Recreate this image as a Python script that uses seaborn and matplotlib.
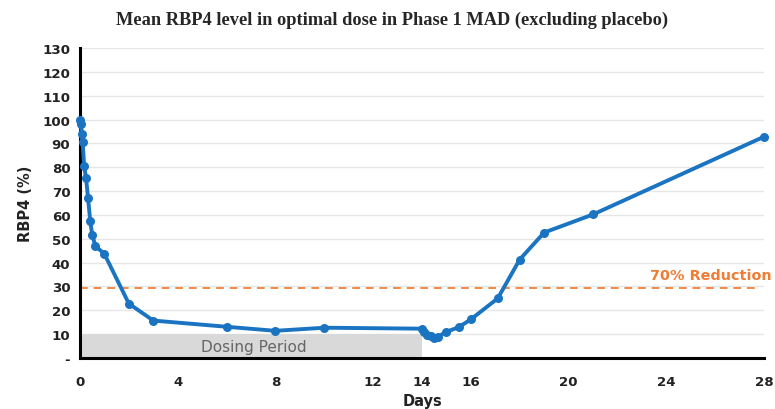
import matplotlib
matplotlib.use("Agg")
import matplotlib.pyplot as plt
import seaborn as sns
import pandas as pd

days = [0.0, 0.04, 0.07, 0.11, 0.17, 0.25, 0.33, 0.42, 0.5, 0.63, 1.0, 2.0, 3.0,
        6.0, 8.0, 10.0, 14.0, 14.1, 14.2, 14.35, 14.5, 14.65, 15.0, 15.5, 16.0,
        17.1, 18.0, 19.0, 21.0, 28.0]
rbp4 = [100.0, 98.0, 94.0, 90.4, 80.5, 75.3, 67.0, 57.3, 51.6, 47.0, 43.6, 22.8, 15.7,
        13.1, 11.4, 12.7, 12.3, 10.8, 9.8, 9.3, 8.2, 8.9, 11.0, 12.9, 16.2,
        25.0, 41.3, 52.6, 60.2, 92.8]
x_ticks = [0, 4, 8, 12, 14, 16, 20, 24, 28]
y_ticks = [0, 10, 20, 30, 40, 50, 60, 70, 80, 90, 100, 110, 120, 130]
y_tick_labels = ["-"] + [str(v) for v in y_ticks[1:]]
threshold = 29.3
threshold_label = "70% Reduction"
dosing_start, dosing_end, dosing_height = 0, 14, 10
dosing_label = "Dosing Period"
title = "Mean RBP4 level in optimal dose in Phase 1 MAD (excluding placebo)"

sns.set_theme(style="white")
plt.rcParams["font.family"] = ["DejaVu Sans"]

df = pd.DataFrame({"Days": days, "RBP4": rbp4})

fig = plt.figure(figsize=(7.75, 4.1), dpi=100)
ax = fig.add_axes([80 / 775, 51 / 410, 684 / 775, 310 / 410])

for v in y_ticks[1:]:
    ax.axhline(v, color="#e6e6e6", lw=1.0, zorder=0)

ax.axvspan(dosing_start, dosing_end, ymin=0, ymax=dosing_height / 130,
           color="#d9d9d9", lw=0, zorder=1)
ax.text((dosing_start + dosing_end) / 2 + 0.1, dosing_height / 2 - 0.3, dosing_label,
        ha="center", va="center", fontsize=11, color="#666666", zorder=2)

ax.axhline(threshold, xmin=0, xmax=27.8 / 28, color="#f08a46", lw=1.4,
           ls=(0, (4, 3)), zorder=2)
ax.text(28.3, threshold + 2.6, threshold_label, ha="right", va="bottom",
        fontsize=10.4, fontweight="bold", color="#ef7d35", clip_on=False)

sns.lineplot(data=df, x="Days", y="RBP4", ax=ax, estimator=None, sort=False,
             color="#1b74c1", lw=2.8, marker="o", markersize=6.5,
             markeredgewidth=0, zorder=4, clip_on=False)

ax.set_xlim(0, 28)
ax.set_ylim(0, 130)
ax.set_xticks(x_ticks)
ax.set_xticklabels([str(t) for t in x_ticks], fontsize=9.6, fontweight="bold")
ax.set_yticks(y_ticks)
ax.set_yticklabels(y_tick_labels, fontsize=9.6, fontweight="bold")
ax.tick_params(axis="both", which="both", length=4, width=2, color="black",
               direction="out", pad=3, labelcolor="#222222")
ax.tick_params(axis="x", pad=8)

for side in ["top", "right"]:
    ax.spines[side].set_visible(False)
for side in ["left", "bottom"]:
    ax.spines[side].set_color("black")
    ax.spines[side].set_linewidth(2.2)

ax.set_xlabel("Days", fontsize=10.5, fontweight="bold", color="#222222", labelpad=3.5)
ax.set_ylabel("RBP4 (%)", fontsize=10.5, fontweight="bold", color="#222222", labelpad=7)

fig.text(0.506, 1 - 20 / 410, title, ha="center", va="center", fontsize=13.2,
         fontweight="bold", family=["Liberation Serif", "DejaVu Serif"])

fig.savefig("out.png", dpi=100)
